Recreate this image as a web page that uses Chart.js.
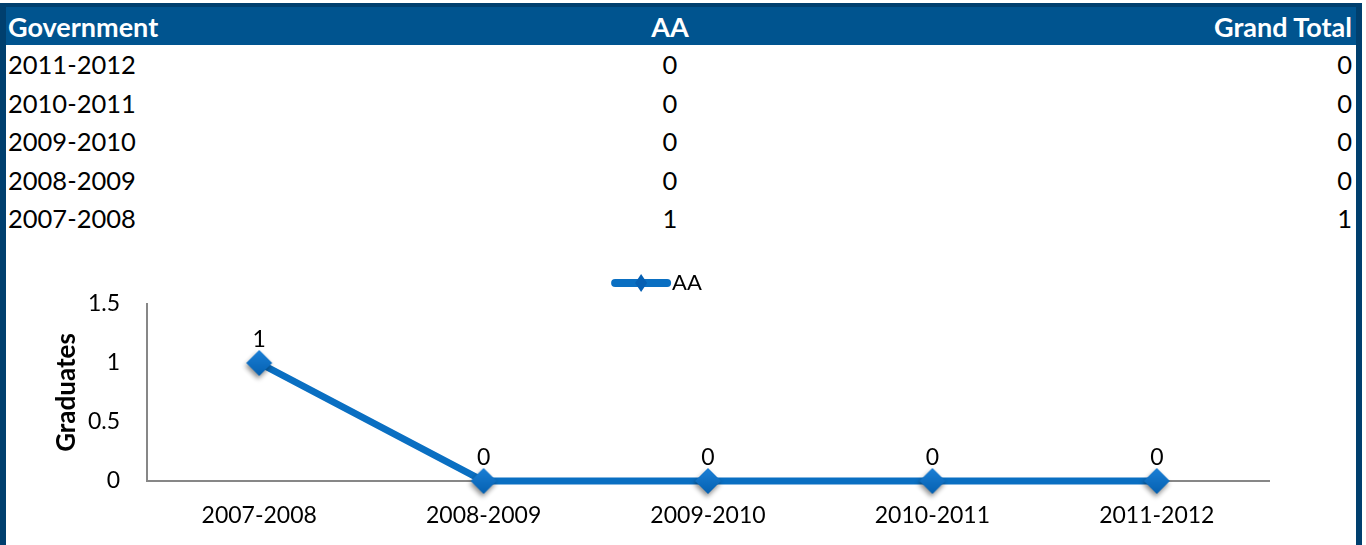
<!DOCTYPE html>
<html>
<head>
<meta charset="utf-8">
<script src="https://cdn.jsdelivr.net/npm/chart.js@4.4.1/dist/chart.umd.min.js"></script>
<style>
  html, body { margin: 0; padding: 0; background: #fff; }
  body { width: 1366px; height: 545px; overflow: hidden; position: relative; font-family: Lato, sans-serif; }
  #frame {
    position: absolute; left: 0; top: 3px; width: 1350px; height: 560px;
    border-left: 6px solid #003f6e; border-right: 6px solid #003f6e; border-top: 4px solid #003f6e;
  }
  #grid { border-collapse: collapse; width: 1350px; table-layout: fixed; font-size: 25.5px; color: #000; }
  #grid th { background: #00548f; color: #fff; font-weight: bold; font-size: 27px; height: 38px; padding: 0; }
  #grid td { height: 38.5px; padding: 0; }
  .c1 { text-align: left; padding-left: 2px !important; }
  .c2 { text-align: center; }
  .c3 { text-align: right; padding-right: 4px !important; }
  #chart { position: absolute; left: 0; top: 250px; }
</style>
</head>
<body>
<div id="frame">
  <table id="grid">
    <colgroup><col style="width:300px"><col style="width:728px"><col style="width:322px"></colgroup>
    <thead><tr><th class="c1">Government</th><th class="c2">AA</th><th class="c3">Grand Total</th></tr></thead>
    <tbody id="rows"></tbody>
  </table>
</div>
<canvas id="chart" width="1314" height="295"></canvas>
<script>
// academic years, oldest first
const years = ['2007-2008', '2008-2009', '2009-2010', '2010-2011', '2011-2012'];
const aaValues = [1, 0, 0, 0, 0];
const grandTotals = [1, 0, 0, 0, 0];
const yTicks = [0, 0.5, 1, 1.5];

const blue = '#0a6fc2';
const axisGray = '#878787';

// table lists newest year first
let rows = document.getElementById('rows');
for (let i = years.length - 1; i >= 0; i -= 1) {
  rows.insertAdjacentHTML('beforeend',
    '<tr><td class="c1">' + years[i] + '</td><td class="c2">' + aaValues[i] +
    '</td><td class="c3">' + grandTotals[i] + '</td></tr>');
}

// diamond marker with a soft shadow underneath
function makeDiamond(r, shadow) {
  let c = document.createElement('canvas');
  c.width = r * 2 + 16; c.height = r * 2 + 16;
  let g = c.getContext('2d');
  let cx = c.width / 2, cy = c.height / 2;
  if (shadow) {
    g.shadowColor = 'rgba(0,0,0,0.45)';
    g.shadowBlur = 5;
    g.shadowOffsetX = -1;
    g.shadowOffsetY = 3;
  }
  let grad = g.createLinearGradient(cx, cy - r, cx, cy + r);
  grad.addColorStop(0, '#1a7fd6');
  grad.addColorStop(1, '#0560b0');
  g.fillStyle = grad;
  g.beginPath();
  g.moveTo(cx, cy - r);
  g.lineTo(cx + r, cy);
  g.lineTo(cx, cy + r);
  g.lineTo(cx - r, cy);
  g.closePath();
  g.fill();
  return c;
}
const marker = makeDiamond(13, true);

// value labels above each point
const pointLabels = {
  id: 'pointLabels',
  afterDatasetsDraw(chart) {
    let ctx = chart.ctx;
    let meta = chart.getDatasetMeta(0);
    ctx.save();
    ctx.font = '23px Lato';
    ctx.fillStyle = '#000';
    ctx.textAlign = 'center';
    ctx.textBaseline = 'middle';
    meta.data.forEach(function(pt, i) {
      ctx.fillText(String(chart.data.datasets[0].data[i]), pt.x, pt.y - 23);
    });
    ctx.restore();
  }
};

// legend swatch: thick line with a diamond in the middle
const legendSwatch = {
  id: 'legendSwatch',
  afterDraw(chart) {
    let box = chart.legend.legendHitBoxes[0];
    if (!box) return;
    let ctx = chart.ctx;
    let y = box.top + box.height / 2;
    ctx.save();
    ctx.strokeStyle = blue;
    ctx.lineWidth = 8;
    ctx.lineCap = 'round';
    ctx.beginPath();
    ctx.moveTo(box.left + 4, y);
    ctx.lineTo(box.left + 56, y);
    ctx.stroke();
    ctx.fillStyle = '#0660b3';
    ctx.beginPath();
    ctx.moveTo(box.left + 30, y - 9);
    ctx.lineTo(box.left + 36, y);
    ctx.lineTo(box.left + 30, y + 9);
    ctx.lineTo(box.left + 24, y);
    ctx.closePath();
    ctx.fill();
    ctx.restore();
  }
};

new Chart(document.getElementById('chart'), {
  type: 'line',
  data: {
    labels: years,
    datasets: [{
      label: 'AA',
      data: aaValues,
      borderColor: blue,
      backgroundColor: 'rgba(0,0,0,0)',
      borderWidth: 7,
      pointStyle: marker,
      pointRadius: 13,
      clip: false,
      tension: 0
    }]
  },
  options: {
    responsive: false,
    animation: false,
    layout: { padding: { top: 12, right: 45, left: 44, bottom: 0 } },
    plugins: {
      legend: {
        position: 'top',
        labels: {
          boxWidth: 50,
          boxHeight: 8,
          color: '#000',
          font: { family: 'Lato', size: 22 },
          padding: 10,
          // the swatch itself is painted by legendSwatch
          generateLabels(chart) {
            return Chart.defaults.plugins.legend.labels.generateLabels(chart).map(function(item) {
              item.fillStyle = 'rgba(0,0,0,0)';
              item.strokeStyle = 'rgba(0,0,0,0)';
              item.lineWidth = 0;
              return item;
            });
          }
        }
      },
      tooltip: { enabled: false }
    },
    scales: {
      x: {
        offset: true,
        grid: { display: false, drawTicks: false },
        border: { display: true, color: axisGray, width: 2 },
        ticks: { color: '#000', font: { family: 'Lato', size: 23 }, padding: 21, maxRotation: 0 },
        afterFit(scale) { scale.height = 64; }
      },
      y: {
        min: 0,
        max: 1.5,
        afterBuildTicks(scale) { scale.ticks = yTicks.map(v => ({ value: v })); },
        grid: { display: false, drawTicks: false },
        border: { display: true, color: axisGray, width: 2 },
        ticks: {
          color: '#000', font: { family: 'Lato', size: 23 }, padding: 27,
          callback: v => String(v)
        },
        title: {
          display: true, text: 'Graduates', color: '#000',
          font: { family: 'Lato', size: 26, weight: 'bold' },
          padding: { top: 7, bottom: 0 }
        },
        afterFit(scale) { scale.width = 103; }
      }
    }
  },
  plugins: [pointLabels, legendSwatch]
});
</script>
</body>
</html>
